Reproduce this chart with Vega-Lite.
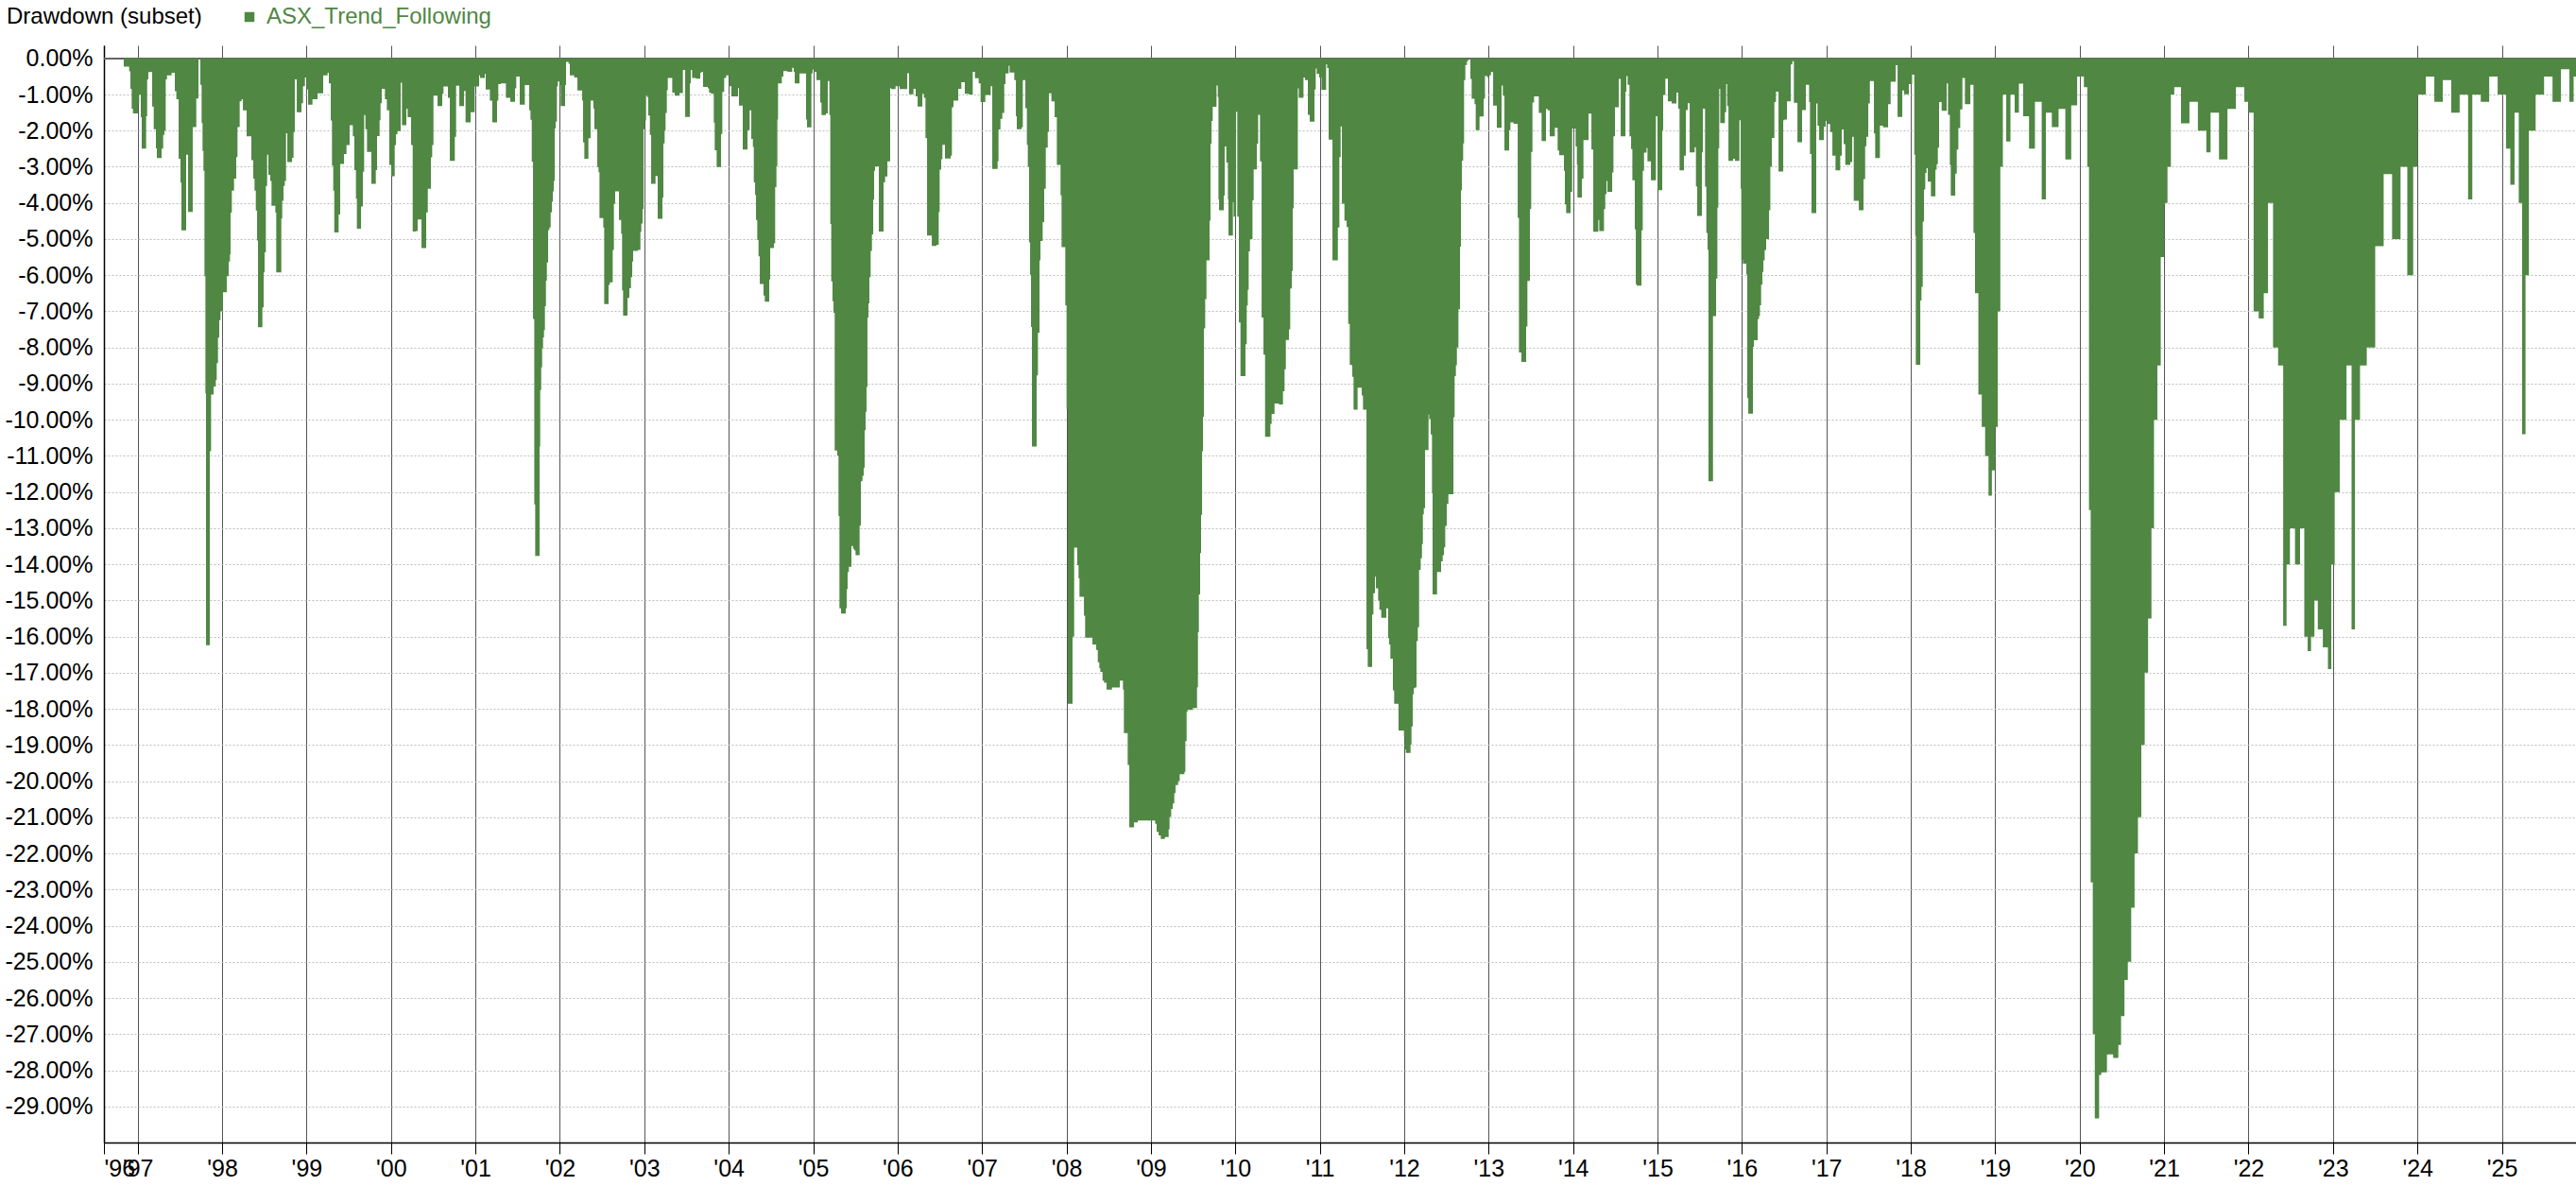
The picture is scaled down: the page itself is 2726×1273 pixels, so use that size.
{
"$schema": "https://vega.github.io/schema/vega-lite/v6.json",
"width": 2616, "height": 1161,
"autosize": {"type": "none"},
"padding": {"left": 110, "top": 48, "right": 0, "bottom": 64},
"background": "white",
"config": {"view": {"stroke": null}, "font": "Liberation Sans"},
"data": {"values": [
{"t":1996.835,"dd":-0.23},{"t":1996.899,"dd":-0.36},{"t":1996.914,"dd":-0.84},{"t":1996.929,"dd":-1.39},{"t":1996.944,"dd":-1.52},{"t":1997.003,"dd":-1.24},{"t":1997.018,"dd":-1.0},{"t":1997.037,"dd":-1.63},{"t":1997.048,"dd":-2.5},{"t":1997.1,"dd":-1.6},{"t":1997.112,"dd":-0.58},{"t":1997.126,"dd":-0.38},{"t":1997.171,"dd":-1.33},{"t":1997.19,"dd":-1.96},{"t":1997.216,"dd":-2.49},{"t":1997.227,"dd":-2.76},{"t":1997.283,"dd":-2.5},{"t":1997.302,"dd":-2.12},{"t":1997.317,"dd":-2.0},{"t":1997.332,"dd":-0.58},{"t":1997.347,"dd":-0.47},{"t":1997.402,"dd":-0.4},{"t":1997.44,"dd":-0.91},{"t":1997.458,"dd":-1.13},{"t":1997.485,"dd":-2.78},{"t":1997.507,"dd":-3.44},{"t":1997.518,"dd":-4.76},{"t":1997.574,"dd":-2.67},{"t":1997.597,"dd":-4.25},{"t":1997.652,"dd":-1.9},{"t":1997.694,"dd":-1.11},{"t":1997.72,"dd":0},{"t":1997.742,"dd":-0.73},{"t":1997.757,"dd":-1.79},{"t":1997.768,"dd":-2.56},{"t":1997.779,"dd":-3.11},{"t":1997.791,"dd":-6.03},{"t":1997.802,"dd":-9.27},{"t":1997.809,"dd":-16.24},{"t":1997.854,"dd":-10.87},{"t":1997.869,"dd":-9.3},{"t":1997.899,"dd":-9.08},{"t":1997.925,"dd":-8.9},{"t":1997.936,"dd":-8.43},{"t":1997.951,"dd":-7.73},{"t":1997.966,"dd":-7.24},{"t":1997.981,"dd":-7.0},{"t":1998.011,"dd":-6.47},{"t":1998.055,"dd":-6.03},{"t":1998.078,"dd":-5.62},{"t":1998.093,"dd":-5.42},{"t":1998.1,"dd":-4.27},{"t":1998.115,"dd":-3.66},{"t":1998.141,"dd":-3.33},{"t":1998.167,"dd":-2.73},{"t":1998.182,"dd":-1.9},{"t":1998.208,"dd":-1.19},{"t":1998.231,"dd":-1.13},{"t":1998.246,"dd":-1.44},{"t":1998.29,"dd":-2.16},{"t":1998.346,"dd":-2.82},{"t":1998.369,"dd":-3.33},{"t":1998.384,"dd":-3.66},{"t":1998.399,"dd":-4.21},{"t":1998.414,"dd":-5.04},{"t":1998.425,"dd":-7.44},{"t":1998.477,"dd":-6.89},{"t":1998.492,"dd":-5.92},{"t":1998.503,"dd":-5.37},{"t":1998.518,"dd":-3.53},{"t":1998.533,"dd":-2.67},{"t":1998.548,"dd":-3.22},{"t":1998.57,"dd":-3.39},{"t":1998.585,"dd":-4.08},{"t":1998.63,"dd":-4.27},{"t":1998.641,"dd":-5.92},{"t":1998.701,"dd":-4.43},{"t":1998.712,"dd":-3.94},{"t":1998.727,"dd":-3.53},{"t":1998.742,"dd":-3.39},{"t":1998.757,"dd":-2.07},{"t":1998.772,"dd":-2.87},{"t":1998.828,"dd":-2.75},{"t":1998.846,"dd":-2.04},{"t":1998.861,"dd":-0.58},{"t":1998.884,"dd":-1.49},{"t":1998.94,"dd":-1.24},{"t":1998.958,"dd":-0.77},{"t":1998.981,"dd":-0.53},{"t":1999.0,"dd":-0.86},{"t":1999.018,"dd":-1.28},{"t":1999.07,"dd":-1.13},{"t":1999.13,"dd":-0.97},{"t":1999.197,"dd":-0.47},{"t":1999.249,"dd":-0.4},{"t":1999.264,"dd":-0.69},{"t":1999.287,"dd":-1.72},{"t":1999.301,"dd":-2.97},{"t":1999.316,"dd":-3.66},{"t":1999.328,"dd":-4.82},{"t":1999.38,"dd":-4.32},{"t":1999.398,"dd":-2.92},{"t":1999.443,"dd":-2.65},{"t":1999.473,"dd":-2.4},{"t":1999.51,"dd":-1.85},{"t":1999.548,"dd":-2.16},{"t":1999.566,"dd":-3.09},{"t":1999.585,"dd":-3.88},{"t":1999.596,"dd":-4.71},{"t":1999.645,"dd":-4.1},{"t":1999.667,"dd":-3.14},{"t":1999.682,"dd":-1.57},{"t":1999.697,"dd":-1.96},{"t":1999.716,"dd":-2.59},{"t":1999.768,"dd":-3.47},{"t":1999.82,"dd":-3.09},{"t":1999.835,"dd":-2.15},{"t":1999.865,"dd":-1.71},{"t":1999.876,"dd":-1.24},{"t":1999.891,"dd":-0.84},{"t":1999.928,"dd":-1.13},{"t":1999.951,"dd":-1.44},{"t":1999.98,"dd":-2.95},{"t":2000.003,"dd":-3.26},{"t":2000.044,"dd":-2.4},{"t":2000.059,"dd":-2.1},{"t":2000.077,"dd":-2.01},{"t":2000.115,"dd":-0.67},{"t":2000.13,"dd":-1.85},{"t":2000.182,"dd":-1.39},{"t":2000.197,"dd":-1.63},{"t":2000.238,"dd":-2.4},{"t":2000.257,"dd":-4.79},
{"t":2000.294,"dd":-4.78},{"t":2000.316,"dd":-4.46},{"t":2000.361,"dd":-5.25},{"t":2000.417,"dd":-4.26},{"t":2000.436,"dd":-3.61},{"t":2000.473,"dd":-2.74},{"t":2000.488,"dd":-2.4},{"t":2000.503,"dd":-1.03},{"t":2000.551,"dd":-1.32},{"t":2000.607,"dd":-0.98},{"t":2000.622,"dd":-0.78},{"t":2000.674,"dd":-1.09},{"t":2000.697,"dd":-2.84},{"t":2000.756,"dd":-2.17},{"t":2000.771,"dd":-0.76},{"t":2000.809,"dd":-1.32},{"t":2000.865,"dd":-0.9},{"t":2000.883,"dd":-1.77},{"t":2000.943,"dd":-1.49},{"t":2000.991,"dd":-0.78},{"t":2001.044,"dd":-0.47},{"t":2001.055,"dd":-0.54},{"t":2001.111,"dd":-0.43},{"t":2001.122,"dd":-0.86},{"t":2001.171,"dd":-1.17},{"t":2001.2,"dd":-1.77},{"t":2001.256,"dd":-1.17},{"t":2001.271,"dd":-0.71},{"t":2001.301,"dd":-0.69},{"t":2001.361,"dd":-1.09},{"t":2001.413,"dd":-1.2},{"t":2001.469,"dd":-0.83},{"t":2001.484,"dd":-0.5},{"t":2001.525,"dd":-1.28},{"t":2001.585,"dd":-0.74},{"t":2001.637,"dd":-1.44},{"t":2001.652,"dd":-1.7},{"t":2001.667,"dd":-2.86},{"t":2001.682,"dd":-7.21},{"t":2001.697,"dd":-12.34},{"t":2001.708,"dd":-13.77},{"t":2001.76,"dd":-10.74},{"t":2001.767,"dd":-9.18},{"t":2001.779,"dd":-8.55},{"t":2001.79,"dd":-8.02},{"t":2001.801,"dd":-7.72},{"t":2001.812,"dd":-7.52},{"t":2001.823,"dd":-6.86},{"t":2001.835,"dd":-6.15},{"t":2001.846,"dd":-5.65},{"t":2001.861,"dd":-4.75},{"t":2001.876,"dd":-4.68},{"t":2001.891,"dd":-4.26},{"t":2001.906,"dd":-3.97},{"t":2001.917,"dd":-3.68},{"t":2001.928,"dd":-3.39},{"t":2001.939,"dd":-1.94},{"t":2001.95,"dd":-1.75},{"t":2001.965,"dd":-0.78},{"t":2001.976,"dd":-0.64},{"t":2001.999,"dd":-0.74},{"t":2002.01,"dd":-1.32},{"t":2002.062,"dd":-0.74},{"t":2002.073,"dd":-0.1},{"t":2002.103,"dd":-0.15},{"t":2002.118,"dd":-0.47},{"t":2002.17,"dd":-0.53},{"t":2002.208,"dd":-0.89},{"t":2002.264,"dd":-1.17},{"t":2002.275,"dd":-2.33},{"t":2002.29,"dd":-2.78},{"t":2002.338,"dd":-2.21},{"t":2002.364,"dd":-1.17},{"t":2002.398,"dd":-1.39},{"t":2002.409,"dd":-1.96},{"t":2002.443,"dd":-3.01},{"t":2002.458,"dd":-3.15},{"t":2002.469,"dd":-4.42},{"t":2002.514,"dd":-4.68},{"t":2002.525,"dd":-6.8},{"t":2002.577,"dd":-6.27},{"t":2002.592,"dd":-6.2},{"t":2002.626,"dd":-5.3},{"t":2002.64,"dd":-4.02},{"t":2002.655,"dd":-3.68},{"t":2002.7,"dd":-4.47},{"t":2002.726,"dd":-4.85},{"t":2002.737,"dd":-6.42},{"t":2002.749,"dd":-7.12},{"t":2002.801,"dd":-6.63},{"t":2002.823,"dd":-6.36},{"t":2002.842,"dd":-6.05},{"t":2002.857,"dd":-5.62},{"t":2002.868,"dd":-5.33},{"t":2002.924,"dd":-5.3},{"t":2002.954,"dd":-4.8},{"t":2002.965,"dd":-4.57},{"t":2002.98,"dd":-4.17},{"t":2002.991,"dd":-1.96},{"t":2003.006,"dd":-1.72},{"t":2003.021,"dd":-1.03},{"t":2003.032,"dd":-1.07},{"t":2003.047,"dd":-1.58},{"t":2003.066,"dd":-2.12},{"t":2003.081,"dd":-3.47},{"t":2003.133,"dd":-3.25},{"t":2003.148,"dd":-3.26},{"t":2003.159,"dd":-4.44},{"t":2003.215,"dd":-3.85},{"t":2003.226,"dd":-2.35},{"t":2003.241,"dd":-1.99},{"t":2003.252,"dd":-1.51},{"t":2003.267,"dd":-0.88},{"t":2003.278,"dd":-0.54},{"t":2003.331,"dd":-0.95},{"t":2003.36,"dd":-1.03},{"t":2003.416,"dd":-0.96},{"t":2003.457,"dd":-0.32},{"t":2003.484,"dd":-1.62},{"t":2003.54,"dd":-0.69},{"t":2003.551,"dd":-0.32},{"t":2003.566,"dd":-0.54},{"t":2003.61,"dd":-0.56},{"t":2003.663,"dd":-0.4},{"t":2003.678,"dd":-0.37},{"t":2003.696,"dd":-0.79},{"t":2003.752,"dd":-0.83},{"t":2003.767,"dd":-0.95},{"t":2003.79,"dd":-0.98},{"t":2003.823,"dd":-1.78},{"t":2003.834,"dd":-2.54},{"t":2003.857,"dd":-3.01},{"t":2003.909,"dd":-2.09},{"t":2003.924,"dd":-0.93},{"t":2003.946,"dd":-0.54},{"t":2003.969,"dd":-0.47},
{"t":2003.987,"dd":-0.47},{"t":2004.006,"dd":-0.77},{"t":2004.032,"dd":-1.05},{"t":2004.11,"dd":-0.82},{"t":2004.121,"dd":-1.31},{"t":2004.166,"dd":-2.52},{"t":2004.222,"dd":-1.99},{"t":2004.248,"dd":-1.44},{"t":2004.267,"dd":-2.23},{"t":2004.286,"dd":-2.45},{"t":2004.297,"dd":-3.43},{"t":2004.312,"dd":-3.78},{"t":2004.323,"dd":-4.47},{"t":2004.338,"dd":-5.03},{"t":2004.353,"dd":-5.48},{"t":2004.368,"dd":-6.24},{"t":2004.412,"dd":-6.56},{"t":2004.427,"dd":-6.73},{"t":2004.48,"dd":-6.12},{"t":2004.491,"dd":-5.25},{"t":2004.535,"dd":-5.12},{"t":2004.55,"dd":-3.56},{"t":2004.565,"dd":-2.98},{"t":2004.576,"dd":-1.69},{"t":2004.584,"dd":-0.69},{"t":2004.629,"dd":-0.5},{"t":2004.647,"dd":-0.35},{"t":2004.696,"dd":-0.37},{"t":2004.752,"dd":-0.26},{"t":2004.77,"dd":-0.37},{"t":2004.782,"dd":-0.69},{"t":2004.838,"dd":-0.42},{"t":2004.916,"dd":-1.69},{"t":2004.927,"dd":-1.91},{"t":2004.979,"dd":-0.42},{"t":2004.994,"dd":-0.31},{"t":2005.017,"dd":-0.37},{"t":2005.039,"dd":-0.6},{"t":2005.084,"dd":-1.22},{"t":2005.099,"dd":-1.57},{"t":2005.151,"dd":-1.52},{"t":2005.173,"dd":-0.63},{"t":2005.192,"dd":-1.57},{"t":2005.203,"dd":-4.58},{"t":2005.214,"dd":-6.17},{"t":2005.229,"dd":-6.72},{"t":2005.241,"dd":-7.04},{"t":2005.255,"dd":-10.85},{"t":2005.285,"dd":-10.99},{"t":2005.3,"dd":-12.66},{"t":2005.311,"dd":-15.22},{"t":2005.33,"dd":-15.36},{"t":2005.386,"dd":-15.22},{"t":2005.397,"dd":-14.69},{"t":2005.408,"dd":-14.21},{"t":2005.423,"dd":-14.07},{"t":2005.453,"dd":-13.49},{"t":2005.472,"dd":-13.57},{"t":2005.487,"dd":-13.62},{"t":2005.502,"dd":-13.75},{"t":2005.55,"dd":-12.93},{"t":2005.565,"dd":-11.7},{"t":2005.584,"dd":-11.55},{"t":2005.599,"dd":-11.33},{"t":2005.61,"dd":-10.29},{"t":2005.621,"dd":-9.78},{"t":2005.632,"dd":-9.09},{"t":2005.643,"dd":-7.17},{"t":2005.655,"dd":-6.78},{"t":2005.666,"dd":-6.05},{"t":2005.681,"dd":-5.33},{"t":2005.696,"dd":-4.87},{"t":2005.711,"dd":-3.91},{"t":2005.722,"dd":-3.11},{"t":2005.733,"dd":-2.99},{"t":2005.778,"dd":-4.79},{"t":2005.834,"dd":-3.43},{"t":2005.852,"dd":-3.27},{"t":2005.879,"dd":-2.85},{"t":2005.912,"dd":-0.82},{"t":2005.923,"dd":-0.85},{"t":2005.976,"dd":-0.77},{"t":2006.024,"dd":-0.85},{"t":2006.114,"dd":-0.41},{"t":2006.136,"dd":-0.99},{"t":2006.188,"dd":-0.84},{"t":2006.214,"dd":-1.05},{"t":2006.237,"dd":-1.33},{"t":2006.293,"dd":-0.98},{"t":2006.311,"dd":-1.09},{"t":2006.33,"dd":-2.21},{"t":2006.349,"dd":-4.9},{"t":2006.405,"dd":-5.19},{"t":2006.461,"dd":-5.16},{"t":2006.487,"dd":-4.25},{"t":2006.498,"dd":-3.08},{"t":2006.516,"dd":-2.79},{"t":2006.531,"dd":-2.39},{"t":2006.561,"dd":-2.77},{"t":2006.628,"dd":-2.69},{"t":2006.643,"dd":-1.35},{"t":2006.662,"dd":-1.17},{"t":2006.718,"dd":-0.84},{"t":2006.755,"dd":-0.66},{"t":2006.796,"dd":-0.98},{"t":2006.845,"dd":-1.0},{"t":2006.89,"dd":-0.37},{"t":2006.916,"dd":-0.55},{"t":2006.96,"dd":-0.69},{"t":2006.983,"dd":-1.21},{"t":2007.039,"dd":-1.01},{"t":2007.102,"dd":-0.77},{"t":2007.121,"dd":-3.06},{"t":2007.184,"dd":-2.85},{"t":2007.195,"dd":-1.97},{"t":2007.218,"dd":-1.67},{"t":2007.24,"dd":-1.51},{"t":2007.263,"dd":-0.71},{"t":2007.278,"dd":-0.42},{"t":2007.315,"dd":-0.2},{"t":2007.326,"dd":-0.39},{"t":2007.382,"dd":-0.6},{"t":2007.401,"dd":-1.6},{"t":2007.412,"dd":-1.96},{"t":2007.468,"dd":-1.91},{"t":2007.483,"dd":-0.6},{"t":2007.513,"dd":-1.38},{"t":2007.531,"dd":-2.39},{"t":2007.542,"dd":-3.0},{"t":2007.557,"dd":-5.09},{"t":2007.569,"dd":-5.99},{"t":2007.58,"dd":-7.43},{"t":2007.591,"dd":-10.74},{"t":2007.647,"dd":-8.77},{"t":2007.662,"dd":-7.59},
{"t":2007.681,"dd":-5.59},{"t":2007.692,"dd":-5.05},{"t":2007.718,"dd":-4.53},{"t":2007.736,"dd":-3.61},{"t":2007.755,"dd":-2.47},{"t":2007.778,"dd":-2.03},{"t":2007.792,"dd":-0.97},{"t":2007.822,"dd":-1.19},{"t":2007.86,"dd":-1.63},{"t":2007.886,"dd":-2.95},{"t":2007.93,"dd":-3.79},{"t":2007.942,"dd":-5.22},{"t":2007.986,"dd":-6.84},{"t":2008.001,"dd":-9.7},{"t":2008.016,"dd":-17.86},{"t":2008.072,"dd":-16.0},{"t":2008.091,"dd":-13.54},{"t":2008.128,"dd":-14.02},{"t":2008.143,"dd":-14.39},{"t":2008.154,"dd":-14.9},{"t":2008.207,"dd":-15.42},{"t":2008.221,"dd":-16.03},{"t":2008.307,"dd":-16.22},{"t":2008.352,"dd":-16.37},{"t":2008.371,"dd":-16.71},{"t":2008.389,"dd":-16.88},{"t":2008.401,"dd":-16.98},{"t":2008.427,"dd":-17.22},{"t":2008.445,"dd":-17.28},{"t":2008.475,"dd":-17.47},{"t":2008.539,"dd":-17.41},{"t":2008.632,"dd":-17.22},{"t":2008.669,"dd":-17.47},{"t":2008.68,"dd":-18.67},{"t":2008.725,"dd":-19.55},{"t":2008.744,"dd":-21.28},{"t":2008.8,"dd":-21.14},{"t":2008.845,"dd":-21.09},{"t":2009.05,"dd":-21.18},{"t":2009.068,"dd":-21.4},{"t":2009.091,"dd":-21.5},{"t":2009.117,"dd":-21.6},{"t":2009.165,"dd":-21.55},{"t":2009.21,"dd":-21.33},{"t":2009.221,"dd":-20.99},{"t":2009.24,"dd":-20.77},{"t":2009.259,"dd":-20.62},{"t":2009.277,"dd":-20.33},{"t":2009.292,"dd":-20.11},{"t":2009.322,"dd":-20.0},{"t":2009.341,"dd":-19.81},{"t":2009.397,"dd":-19.74},{"t":2009.408,"dd":-18.89},{"t":2009.423,"dd":-18.08},{"t":2009.434,"dd":-18.03},{"t":2009.497,"dd":-17.98},{"t":2009.546,"dd":-17.4},{"t":2009.557,"dd":-15.88},{"t":2009.568,"dd":-14.83},{"t":2009.583,"dd":-13.69},{"t":2009.594,"dd":-12.63},{"t":2009.606,"dd":-10.87},{"t":2009.617,"dd":-9.92},{"t":2009.628,"dd":-7.47},{"t":2009.643,"dd":-6.66},{"t":2009.658,"dd":-5.59},{"t":2009.695,"dd":-4.49},{"t":2009.706,"dd":-2.36},{"t":2009.718,"dd":-1.73},{"t":2009.732,"dd":-1.34},{"t":2009.777,"dd":-0.75},{"t":2009.792,"dd":-1.07},{"t":2009.8,"dd":-3.9},{"t":2009.807,"dd":-4.2},{"t":2009.863,"dd":-3.8},{"t":2009.874,"dd":-2.44},{"t":2009.893,"dd":-2.88},{"t":2009.912,"dd":-3.9},{"t":2009.919,"dd":-4.9},{"t":2009.971,"dd":-3.98},{"t":2009.979,"dd":-4.38},{"t":2010.009,"dd":-1.48},{"t":2010.023,"dd":-4.38},{"t":2010.042,"dd":-7.31},{"t":2010.061,"dd":-8.79},{"t":2010.12,"dd":-7.91},{"t":2010.135,"dd":-6.84},{"t":2010.147,"dd":-6.4},{"t":2010.158,"dd":-5.34},{"t":2010.173,"dd":-5.0},{"t":2010.203,"dd":-3.93},{"t":2010.217,"dd":-3.07},{"t":2010.255,"dd":-2.36},{"t":2010.27,"dd":-1.56},{"t":2010.292,"dd":-2.85},{"t":2010.311,"dd":-7.17},{"t":2010.333,"dd":-8.2},{"t":2010.352,"dd":-10.47},{"t":2010.415,"dd":-10.11},{"t":2010.43,"dd":-9.84},{"t":2010.464,"dd":-9.55},{"t":2010.516,"dd":-9.58},{"t":2010.564,"dd":-9.21},{"t":2010.583,"dd":-8.6},{"t":2010.598,"dd":-7.79},{"t":2010.635,"dd":-7.5},{"t":2010.65,"dd":-6.37},{"t":2010.669,"dd":-5.88},{"t":2010.68,"dd":-4.15},{"t":2010.691,"dd":-3.07},{"t":2010.74,"dd":-0.83},{"t":2010.751,"dd":-1.09},{"t":2010.807,"dd":-0.53},{"t":2010.826,"dd":-0.6},{"t":2010.859,"dd":-1.56},{"t":2010.881,"dd":-1.75},{"t":2010.937,"dd":-0.86},{"t":2010.952,"dd":-0.28},{"t":2010.964,"dd":-0.43},{"t":2010.993,"dd":-0.53},{"t":2011.02,"dd":-0.87},{"t":2011.075,"dd":-0.16},{"t":2011.087,"dd":-0.27},{"t":2011.105,"dd":-2.25},{"t":2011.15,"dd":-5.59},{"t":2011.214,"dd":-4.68},{"t":2011.232,"dd":-2.73},{"t":2011.247,"dd":-1.88},{"t":2011.262,"dd":-4.02},{"t":2011.292,"dd":-4.49},{"t":2011.318,"dd":-4.67},{"t":2011.337,"dd":-7.35},{"t":2011.355,"dd":-8.48},
{"t":2011.374,"dd":-8.49},{"t":2011.385,"dd":-8.81},{"t":2011.4,"dd":-9.72},{"t":2011.448,"dd":-9.11},{"t":2011.497,"dd":-9.33},{"t":2011.512,"dd":-9.72},{"t":2011.553,"dd":-16.35},{"t":2011.568,"dd":-16.84},{"t":2011.62,"dd":-15.39},{"t":2011.635,"dd":-14.8},{"t":2011.654,"dd":-14.34},{"t":2011.665,"dd":-14.66},{"t":2011.691,"dd":-15.0},{"t":2011.706,"dd":-15.26},{"t":2011.728,"dd":-15.48},{"t":2011.788,"dd":-15.22},{"t":2011.81,"dd":-16.04},{"t":2011.821,"dd":-16.22},{"t":2011.836,"dd":-16.61},{"t":2011.866,"dd":-17.49},{"t":2011.881,"dd":-17.86},{"t":2011.933,"dd":-18.6},{"t":2011.997,"dd":-18.77},{"t":2012.008,"dd":-19.12},{"t":2012.019,"dd":-19.22},{"t":2012.075,"dd":-18.99},{"t":2012.086,"dd":-18.49},{"t":2012.101,"dd":-17.6},{"t":2012.113,"dd":-17.43},{"t":2012.131,"dd":-17.4},{"t":2012.146,"dd":-16.13},{"t":2012.161,"dd":-15.74},{"t":2012.176,"dd":-14.15},{"t":2012.195,"dd":-13.83},{"t":2012.21,"dd":-13.44},{"t":2012.221,"dd":-12.62},{"t":2012.232,"dd":-12.45},{"t":2012.247,"dd":-10.84},{"t":2012.288,"dd":-9.86},{"t":2012.295,"dd":-9.98},{"t":2012.314,"dd":-10.41},{"t":2012.329,"dd":-12.03},{"t":2012.336,"dd":-14.83},{"t":2012.389,"dd":-14.21},{"t":2012.437,"dd":-13.92},{"t":2012.456,"dd":-13.75},{"t":2012.471,"dd":-13.53},{"t":2012.486,"dd":-12.94},{"t":2012.504,"dd":-12.33},{"t":2012.523,"dd":-12.06},{"t":2012.583,"dd":-9.93},{"t":2012.597,"dd":-8.79},{"t":2012.612,"dd":-8.49},{"t":2012.624,"dd":-8.0},{"t":2012.642,"dd":-6.94},{"t":2012.661,"dd":-5.21},{"t":2012.672,"dd":-3.65},{"t":2012.683,"dd":-2.83},{"t":2012.698,"dd":-2.35},{"t":2012.709,"dd":-0.6},{"t":2012.724,"dd":-0.18},{"t":2012.743,"dd":-0.08},{"t":2012.758,"dd":0},{"t":2012.784,"dd":-0.57},{"t":2012.799,"dd":-1.12},{"t":2012.833,"dd":-1.27},{"t":2012.847,"dd":-1.99},{"t":2012.892,"dd":-1.61},{"t":2012.941,"dd":-1.12},{"t":2012.956,"dd":-0.49},{"t":2012.986,"dd":-0.53},{"t":2013.004,"dd":-0.47},{"t":2013.027,"dd":-0.38},{"t":2013.053,"dd":-1.31},{"t":2013.097,"dd":-1.92},{"t":2013.153,"dd":-0.75},{"t":2013.168,"dd":-1.03},{"t":2013.187,"dd":-2.55},{"t":2013.243,"dd":-1.99},{"t":2013.258,"dd":-1.77},{"t":2013.295,"dd":-1.81},{"t":2013.344,"dd":-4.41},{"t":2013.359,"dd":-8.14},{"t":2013.388,"dd":-8.4},{"t":2013.444,"dd":-7.42},{"t":2013.459,"dd":-6.16},{"t":2013.489,"dd":-4.17},{"t":2013.504,"dd":-2.59},{"t":2013.519,"dd":-1.22},{"t":2013.538,"dd":-1.05},{"t":2013.594,"dd":-1.51},{"t":2013.627,"dd":-2.29},{"t":2013.679,"dd":-1.4},{"t":2013.698,"dd":-1.44},{"t":2013.724,"dd":-2.16},{"t":2013.784,"dd":-1.92},{"t":2013.817,"dd":-2.55},{"t":2013.836,"dd":-2.68},{"t":2013.892,"dd":-3.11},{"t":2013.903,"dd":-4.04},{"t":2013.918,"dd":-4.28},{"t":2013.97,"dd":-3.69},{"t":2013.989,"dd":-1.94},{"t":2014.03,"dd":-2.44},{"t":2014.045,"dd":-2.94},{"t":2014.052,"dd":-3.85},{"t":2014.105,"dd":-3.33},{"t":2014.123,"dd":-2.26},{"t":2014.183,"dd":-1.53},{"t":2014.217,"dd":-2.52},{"t":2014.239,"dd":-4.8},{"t":2014.299,"dd":-4.47},{"t":2014.31,"dd":-4.78},{"t":2014.366,"dd":-4.17},{"t":2014.381,"dd":-3.76},{"t":2014.396,"dd":-3.39},{"t":2014.407,"dd":-3.69},{"t":2014.463,"dd":-3.16},{"t":2014.478,"dd":-2.16},{"t":2014.496,"dd":-1.35},{"t":2014.541,"dd":-0.57},{"t":2014.564,"dd":-2.16},{"t":2014.62,"dd":-0.92},{"t":2014.631,"dd":-0.49},{"t":2014.646,"dd":-0.73},{"t":2014.668,"dd":-2.16},{"t":2014.687,"dd":-2.51},{"t":2014.702,"dd":-3.37},{"t":2014.731,"dd":-4.73},{"t":2014.743,"dd":-6.25},{"t":2014.754,"dd":-6.29},{"t":2014.81,"dd":-4.76},{"t":2014.825,"dd":-3.11},{"t":2014.84,"dd":-2.61},{"t":2014.87,"dd":-2.48},{"t":2014.881,"dd":-2.85},{"t":2014.922,"dd":-3.37},{"t":2014.981,"dd":-1.6},{"t":2015.0,"dd":-3.65},{"t":2015.056,"dd":-1.99},
{"t":2015.067,"dd":-1.01},{"t":2015.093,"dd":-0.56},{"t":2015.123,"dd":-1.19},{"t":2015.168,"dd":-1.25},{"t":2015.224,"dd":-0.95},{"t":2015.246,"dd":-1.39},{"t":2015.261,"dd":-3.1},{"t":2015.313,"dd":-2.69},{"t":2015.336,"dd":-1.43},{"t":2015.358,"dd":-1.24},{"t":2015.381,"dd":-2.6},{"t":2015.44,"dd":-2.46},{"t":2015.455,"dd":-3.54},{"t":2015.47,"dd":-4.36},{"t":2015.526,"dd":-2.6},{"t":2015.537,"dd":-1.39},{"t":2015.563,"dd":-3.55},{"t":2015.578,"dd":-4.83},{"t":2015.593,"dd":-5.3},{"t":2015.604,"dd":-11.7},{"t":2015.657,"dd":-7.13},{"t":2015.694,"dd":-6.09},{"t":2015.709,"dd":-4.13},{"t":2015.72,"dd":-2.49},{"t":2015.731,"dd":-0.84},{"t":2015.743,"dd":-1.79},{"t":2015.798,"dd":-1.49},{"t":2015.813,"dd":-0.71},{"t":2015.825,"dd":-1.32},{"t":2015.84,"dd":-2.84},{"t":2015.895,"dd":-2.78},{"t":2015.918,"dd":-2.84},{"t":2015.97,"dd":-1.71},{"t":2015.985,"dd":-3.61},{"t":2015.992,"dd":-5.57},{"t":2016.011,"dd":-5.68},{"t":2016.052,"dd":-5.98},{"t":2016.063,"dd":-9.4},{"t":2016.075,"dd":-9.83},{"t":2016.13,"dd":-7.98},{"t":2016.142,"dd":-7.8},{"t":2016.186,"dd":-7.22},{"t":2016.201,"dd":-7.13},{"t":2016.213,"dd":-6.83},{"t":2016.227,"dd":-6.26},{"t":2016.242,"dd":-5.91},{"t":2016.254,"dd":-5.59},{"t":2016.269,"dd":-5.3},{"t":2016.287,"dd":-5.0},{"t":2016.321,"dd":-4.2},{"t":2016.336,"dd":-3.0},{"t":2016.354,"dd":-2.2},{"t":2016.384,"dd":-1.21},{"t":2016.403,"dd":-0.92},{"t":2016.433,"dd":-3.13},{"t":2016.489,"dd":-1.71},{"t":2016.504,"dd":-1.69},{"t":2016.533,"dd":-1.19},{"t":2016.578,"dd":-0.17},{"t":2016.597,"dd":-0.08},{"t":2016.615,"dd":-1.23},{"t":2016.657,"dd":-2.32},{"t":2016.712,"dd":-1.43},{"t":2016.757,"dd":-0.73},{"t":2016.795,"dd":-1.21},{"t":2016.806,"dd":-2.65},{"t":2016.824,"dd":-4.28},{"t":2016.88,"dd":-1.25},{"t":2016.895,"dd":-1.86},{"t":2016.914,"dd":-2.26},{"t":2016.97,"dd":-1.89},{"t":2016.992,"dd":-1.73},{"t":2017.011,"dd":-1.82},{"t":2017.045,"dd":-2.04},{"t":2017.071,"dd":-2.69},{"t":2017.108,"dd":-3.1},{"t":2017.164,"dd":-2.69},{"t":2017.183,"dd":-1.97},{"t":2017.205,"dd":-2.37},{"t":2017.224,"dd":-2.95},{"t":2017.283,"dd":-2.87},{"t":2017.306,"dd":-2.17},{"t":2017.324,"dd":-3.94},{"t":2017.384,"dd":-4.2},{"t":2017.44,"dd":-3.34},{"t":2017.459,"dd":-2.43},{"t":2017.474,"dd":-2.17},{"t":2017.496,"dd":-1.25},{"t":2017.515,"dd":-0.63},{"t":2017.563,"dd":-2.08},{"t":2017.578,"dd":-2.76},{"t":2017.634,"dd":-1.86},{"t":2017.671,"dd":-1.91},{"t":2017.731,"dd":-1.27},{"t":2017.761,"dd":-0.65},{"t":2017.821,"dd":-0.19},{"t":2017.843,"dd":-1.62},{"t":2017.899,"dd":-0.89},{"t":2017.921,"dd":-0.99},{"t":2017.977,"dd":-0.71},{"t":2018.015,"dd":-0.45},{"t":2018.041,"dd":-2.67},{"t":2018.052,"dd":-4.91},{"t":2018.059,"dd":-8.48},{"t":2018.112,"dd":-6.7},{"t":2018.126,"dd":-6.32},{"t":2018.141,"dd":-4.52},{"t":2018.156,"dd":-3.63},{"t":2018.171,"dd":-3.17},{"t":2018.186,"dd":-3.04},{"t":2018.201,"dd":-3.41},{"t":2018.238,"dd":-3.82},{"t":2018.291,"dd":-3.08},{"t":2018.306,"dd":-2.93},{"t":2018.32,"dd":-2.47},{"t":2018.335,"dd":-1.21},{"t":2018.365,"dd":-1.45},{"t":2018.425,"dd":-0.69},{"t":2018.44,"dd":-1.56},{"t":2018.462,"dd":-2.95},{"t":2018.473,"dd":-3.8},{"t":2018.526,"dd":-3.19},{"t":2018.544,"dd":-2.52},{"t":2018.563,"dd":-1.93},{"t":2018.585,"dd":-1.41},{"t":2018.611,"dd":-0.54},{"t":2018.641,"dd":-1.27},{"t":2018.705,"dd":-0.73},{"t":2018.742,"dd":-4.83},
{"t":2018.76,"dd":-6.5},{"t":2018.8,"dd":-9.3},{"t":2018.84,"dd":-10.2},{"t":2018.88,"dd":-11.0},{"t":2018.92,"dd":-12.1},{"t":2018.96,"dd":-11.4},{"t":2019.0,"dd":-10.2},{"t":2019.03,"dd":-7.0},{"t":2019.06,"dd":-3.0},{"t":2019.09,"dd":-1.0},{"t":2019.13,"dd":-2.3},{"t":2019.18,"dd":-1.0},{"t":2019.23,"dd":-1.5},{"t":2019.28,"dd":-0.7},{"t":2019.33,"dd":-1.6},{"t":2019.4,"dd":-2.5},{"t":2019.47,"dd":-1.2},{"t":2019.55,"dd":-3.9},{"t":2019.6,"dd":-1.5},{"t":2019.67,"dd":-1.9},{"t":2019.75,"dd":-1.4},{"t":2019.83,"dd":-2.8},{"t":2019.9,"dd":-1.3},{"t":2019.97,"dd":-0.5},{"t":2020.05,"dd":-0.8},{"t":2020.09,"dd":-3.0},{"t":2020.11,"dd":-12.5},{"t":2020.13,"dd":-22.8},{"t":2020.155,"dd":-27.0},{"t":2020.179,"dd":-29.33},{"t":2020.23,"dd":-28.13},{"t":2020.256,"dd":-28.06},{"t":2020.323,"dd":-27.56},{"t":2020.396,"dd":-27.66},{"t":2020.458,"dd":-27.3},{"t":2020.49,"dd":-26.5},{"t":2020.53,"dd":-25.5},{"t":2020.57,"dd":-25.0},{"t":2020.61,"dd":-23.5},{"t":2020.65,"dd":-22.0},{"t":2020.69,"dd":-21.0},{"t":2020.73,"dd":-19.0},{"t":2020.77,"dd":-17.0},{"t":2020.81,"dd":-15.5},{"t":2020.85,"dd":-13.0},{"t":2020.88,"dd":-10.0},{"t":2020.92,"dd":-8.5},{"t":2020.96,"dd":-5.5},{"t":2021.0,"dd":-4.0},{"t":2021.04,"dd":-3.0},{"t":2021.08,"dd":-1.0},{"t":2021.12,"dd":-0.8},{"t":2021.2,"dd":-1.8},{"t":2021.3,"dd":-1.2},{"t":2021.4,"dd":-2.0},{"t":2021.5,"dd":-2.6},{"t":2021.55,"dd":-1.5},{"t":2021.65,"dd":-2.8},{"t":2021.75,"dd":-1.4},{"t":2021.85,"dd":-0.8},{"t":2021.95,"dd":-1.2},{"t":2022.0,"dd":-1.5},{"t":2022.06,"dd":-7.0},{"t":2022.12,"dd":-7.2},{"t":2022.18,"dd":-6.5},{"t":2022.23,"dd":-4.0},{"t":2022.29,"dd":-8.0},{"t":2022.35,"dd":-8.5},{"t":2022.41,"dd":-15.7},{"t":2022.45,"dd":-14.0},{"t":2022.49,"dd":-13.0},{"t":2022.55,"dd":-14.0},{"t":2022.61,"dd":-13.0},{"t":2022.66,"dd":-16.0},{"t":2022.7,"dd":-16.4},{"t":2022.74,"dd":-16.0},{"t":2022.78,"dd":-15.0},{"t":2022.82,"dd":-15.8},{"t":2022.88,"dd":-16.3},{"t":2022.94,"dd":-16.9},{"t":2022.98,"dd":-14.0},{"t":2023.02,"dd":-12.0},{"t":2023.08,"dd":-10.0},{"t":2023.16,"dd":-8.5},{"t":2023.22,"dd":-15.8},{"t":2023.26,"dd":-10.0},{"t":2023.32,"dd":-8.5},{"t":2023.4,"dd":-8.0},{"t":2023.5,"dd":-5.2},{"t":2023.6,"dd":-3.2},{"t":2023.7,"dd":-5.0},{"t":2023.8,"dd":-3.0},{"t":2023.88,"dd":-6.0},{"t":2023.95,"dd":-3.0},{"t":2024.0,"dd":-1.0},{"t":2024.1,"dd":-0.5},{"t":2024.2,"dd":-1.2},{"t":2024.3,"dd":-0.6},{"t":2024.4,"dd":-1.5},{"t":2024.5,"dd":-1.0},{"t":2024.6,"dd":-3.9},{"t":2024.65,"dd":-1.0},{"t":2024.75,"dd":-1.2},{"t":2024.85,"dd":-0.5},{"t":2024.95,"dd":-1.0},{"t":2025.05,"dd":-2.5},{"t":2025.1,"dd":-3.5},{"t":2025.15,"dd":-1.5},{"t":2025.2,"dd":-4.0},{"t":2025.24,"dd":-10.4},{"t":2025.28,"dd":-6.0},{"t":2025.32,"dd":-2.0},{"t":2025.4,"dd":-1.0},{"t":2025.5,"dd":-0.5},{"t":2025.6,"dd":-1.2},{"t":2025.7,"dd":-0.3},{"t":2025.8,"dd":-1.2},{"t":2025.85,"dd":-0.5},{"t":2025.878,"dd":-0.5}
]},
"layer": [
{"mark": {"type": "rule", "color": "#666666", "strokeWidth": 1}, "encoding": {"y": {"datum": 0, "type": "quantitative"}}},
{"mark": {"type": "area", "interpolate": "step-after"},
 "encoding": {
  "x": {"field": "t", "type": "quantitative",
        "scale": {"domain": [1996.6004, 2025.878], "nice": false, "zero": false},
        "axis": {"values": [1996.6004,1997,1998,1999,2000,2001,2002,2003,2004,2005,2006,2007,2008,2009,2010,2011,2012,2013,2014,2015,2016,2017,2018,2019,2020,2021,2022,2023,2024,2025],
                 "labelExpr": "datum.value < 1996.9 ? \"'96\" : \"'\" + slice(toString(round(datum.value)), 2)",
                 "title": null, "grid": true, "gridColor": "#555555", "gridWidth": 1,
                 "domainColor": "#000000", "domainWidth": 1.5, "tickColor": "#000000", "tickSize": 12, "tickWidth": 1,
                 "labelFontSize": 25, "labelColor": "#000000", "labelPadding": 3, "labelOverlap": false, "labelFlush": true, "labelFont": "Liberation Sans"}},
  "y": {"field": "dd", "type": "quantitative",
        "scale": {"domain": [-30, 0.36], "nice": false, "zero": false},
        "axis": {"values": [0,-1,-2,-3,-4,-5,-6,-7,-8,-9,-10,-11,-12,-13,-14,-15,-16,-17,-18,-19,-20,-21,-22,-23,-24,-25,-26,-27,-28,-29],
                 "labelExpr": "(datum.value < 0 ? '-' : '') + format(abs(datum.value), '.2f') + '%'",
                 "title": null, "grid": true, "gridColor": "#bdbdbd", "gridDash": [2, 2], "gridWidth": 1,
                 "ticks": false, "domainColor": "#000000", "domainWidth": 1.5,
                 "labelFontSize": 25, "labelColor": "#000000", "labelPadding": 12, "labelFont": "Liberation Sans"}},
  "y2": {"datum": 0},
  "color": {"datum": "ASX_Trend_Following", "type": "nominal",
            "scale": {"range": ["#4f8743"]},
            "legend": {"orient": "none", "legendX": -103, "legendY": -42, "direction": "horizontal",
                       "title": "Drawdown (subset)", "titleOrient": "left", "titleFontSize": 24, "titleFontWeight": "normal", "titleColor": "#000000", "titleFont": "Liberation Sans", "titlePadding": 38, "titleLimit": 0,
                       "symbolType": "square", "symbolSize": 110, "symbolStrokeWidth": 0,
                       "labelFontSize": 24, "labelColor": "#4f8743", "labelFont": "Liberation Sans", "labelOffset": 6, "labelLimit": 0, "padding": 0}}
 }}
]
}
